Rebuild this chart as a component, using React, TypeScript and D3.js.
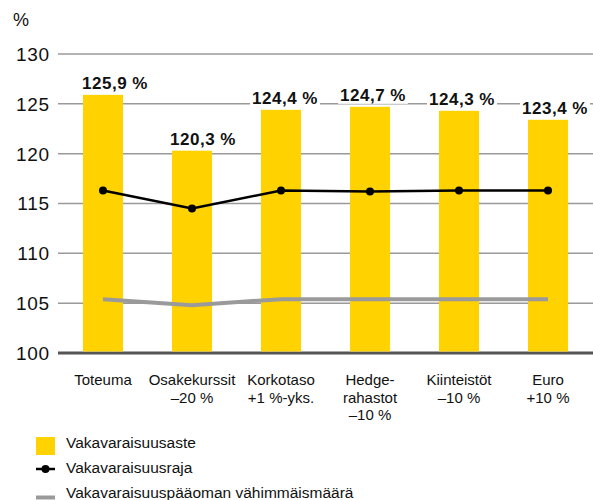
import React from "react";
import * as d3 from "d3";

const categories: string[][] = [
  ["Toteuma"],
  ["Osakekurssit", "\u201320 %"],
  ["Korkotaso", "+1 %-yks."],
  ["Hedge-", "rahastot", "\u201310 %"],
  ["Kiinteistöt", "\u201310 %"],
  ["Euro", "+10 %"],
];
const solvencyRatio = [125.9, 120.3, 124.4, 124.7, 124.3, 123.4];
const solvencyLimit = [116.3, 114.5, 116.3, 116.2, 116.3, 116.3];
const minimumCapital = [105.4, 104.8, 105.4, 105.4, 105.4, 105.4];
const yTicks = [100, 105, 110, 115, 120, 125, 130];
const legendLabels = [
  "Vakavaraisuusaste",
  "Vakavaraisuusraja",
  "Vakavaraisuuspääoman vähimmäismäärä",
];
const labelDx = [12, 11, 4, 3, 3, 7];

const W = 593;
const H = 500;
const YELLOW = "#FFD200";
const GREY = "#9a9a9a";
const FONT = "'Liberation Sans', Arial, sans-serif";

export default function App() {
  const x = d3
    .scaleBand<number>()
    .domain(d3.range(categories.length))
    .range([58.5, 592.5])
    .paddingInner(0.55)
    .paddingOuter(0.275);
  const y = d3.scaleLinear().domain([100, 130]).range([353, 54]);
  const cx = (i: number) => (x(i) as number) + x.bandwidth() / 2;

  const line = d3
    .line<number>()
    .x((_, i) => cx(i))
    .y((d) => y(d));

  const fmt = (v: number) => v.toFixed(1).replace(".", ",") + " %";

  return (
    <svg
      width={W}
      height={H}
      style={{ position: "absolute", left: 0, top: 0, background: "#fff" }}
      fontFamily={FONT}
    >
      {/* gridlines */}
      {yTicks.map((t) => (
        <line
          key={t}
          x1={58}
          x2={W}
          y1={y(t)}
          y2={y(t)}
          stroke={t === 100 ? "#555" : GREY}
          strokeWidth={t === 100 ? 3 : 1.5}
        />
      ))}
      {/* y tick labels */}
      {yTicks.map((t) => (
        <text
          key={"t" + t}
          x={50}
          y={y(t)}
          dy="0.36em"
          textAnchor="end"
          fontSize={19}
          letterSpacing={0.8}
          fill="#111"
        >
          {t}
        </text>
      ))}
      <text x={13} y={26} fontSize={18} fill="#111">
        %
      </text>
      {/* bars */}
      {solvencyRatio.map((v, i) => (
        <rect
          key={"b" + i}
          x={x(i)}
          y={y(v)}
          width={x.bandwidth()}
          height={y(100) - y(v) - 1.5}
          fill={YELLOW}
        />
      ))}
      {/* minimum capital line */}
      <path
        d={line(minimumCapital) || ""}
        fill="none"
        stroke={GREY}
        strokeWidth={4}
      />
      {/* solvency limit */}
      <path
        d={line(solvencyLimit) || ""}
        fill="none"
        stroke="#000"
        strokeWidth={2.5}
      />
      {solvencyLimit.map((v, i) => (
        <circle key={"c" + i} cx={cx(i)} cy={y(v)} r={4} fill="#000" />
      ))}
      {/* value labels */}
      {solvencyRatio.map((v, i) => {
        const tx = cx(i) + labelDx[i];
        const ty = y(v) - 6;
        return (
          <g key={"l" + i}>
            <rect x={tx - 35} y={ty - 14} width={70} height={17} fill="#fff" />
            <text
              x={tx}
              y={ty}
              textAnchor="middle"
              fontSize={17}
              fontWeight="bold"
              letterSpacing={0.5}
              fill="#111"
            >
              {fmt(v)}
            </text>
          </g>
        );
      })}
      {/* x labels */}
      {categories.map((lines, i) => (
        <text
          key={"x" + i}
          x={cx(i)}
          y={385}
          textAnchor="middle"
          fontSize={15}
          fill="#111"
        >
          {lines.map((l, j) => (
            <tspan key={j} x={cx(i)} dy={j === 0 ? 0 : 17.5}>
              {l}
            </tspan>
          ))}
        </text>
      ))}
      {/* legend */}
      <rect x={36} y={437} width={19} height={18} fill={YELLOW} />
      <line x1={36} x2={55} y1={469} y2={469} stroke="#000" strokeWidth={2.5} />
      <circle cx={45.5} cy={469} r={4} fill="#000" />
      <line x1={36} x2={55} y1={497.5} y2={497.5} stroke={GREY} strokeWidth={4} />
      {legendLabels.map((l, i) => (
        <text
          key={"lg" + i}
          x={66}
          y={448 + i * 25}
          fontSize={15.5}
          fill="#111"
        >
          {l}
        </text>
      ))}
    </svg>
  );
}
